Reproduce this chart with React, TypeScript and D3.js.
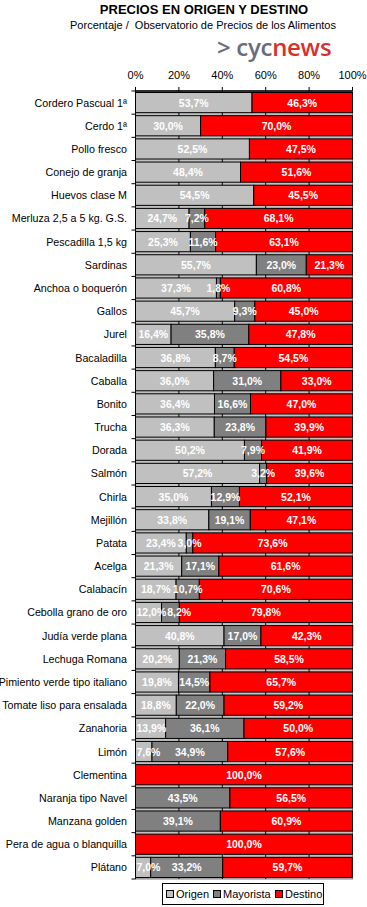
import React from "react";
import * as d3 from "d3";

const categories = [
  "Cordero Pascual 1ª", "Cerdo 1ª", "Pollo fresco", "Conejo de granja", "Huevos clase M",
  "Merluza 2,5 a 5 kg. G.S.", "Pescadilla 1,5 kg", "Sardinas", "Anchoa o boquerón", "Gallos",
  "Jurel", "Bacaladilla", "Caballa", "Bonito", "Trucha", "Dorada", "Salmón", "Chirla",
  "Mejillón", "Patata", "Acelga", "Calabacín", "Cebolla grano de oro", "Judía verde plana",
  "Lechuga Romana", "Pimiento verde tipo italiano", "Tomate liso para ensalada", "Zanahoria",
  "Limón", "Clementina", "Naranja tipo Navel", "Manzana golden", "Pera de agua o blanquilla", "Plátano",
];
const origen = [53.7, 30.0, 52.5, 48.4, 54.5, 24.7, 25.3, 55.7, 37.3, 45.7, 16.4, 36.8, 36.0, 36.4, 36.3, 50.2, 57.2, 35.0, 33.8, 23.4, 21.3, 18.7, 12.0, 40.8, 20.2, 19.8, 18.8, 13.9, 7.6, 0, 0, 0, 0, 7.0];
const mayorista = [0, 0, 0, 0, 0, 7.2, 11.6, 23.0, 1.8, 9.3, 35.8, 8.7, 31.0, 16.6, 23.8, 7.9, 3.2, 12.9, 19.1, 3.0, 17.1, 10.7, 8.2, 17.0, 21.3, 14.5, 22.0, 36.1, 34.9, 0, 43.5, 39.1, 0, 33.2];
const destino = [46.3, 70.0, 47.5, 51.6, 45.5, 68.1, 63.1, 21.3, 60.8, 45.0, 47.8, 54.5, 33.0, 47.0, 39.9, 41.9, 39.6, 52.1, 47.1, 73.6, 61.6, 70.6, 79.8, 42.3, 58.5, 65.7, 59.2, 50.0, 57.6, 100.0, 56.5, 60.9, 100.0, 59.7];
const seriesNames = ["Origen", "Mayorista", "Destino"];
const seriesColors = ["#C0C0C0", "#808080", "#FF0000"];
const xTicks = [0, 20, 40, 60, 80, 100];

const FONT = "'Liberation Sans', Arial, sans-serif";
const LABEL_FS = 10.5;

function labelWidth(s: string) {
  let w = 0;
  for (const ch of s) w += ch === "," ? 0.278 : ch === "%" ? 0.889 : 0.556;
  return w * LABEL_FS;
}

export default function App() {
  const left = 135.5, right = 352.5, top = 91, bottom = 879;
  const x = d3.scaleLinear().domain([0, 100]).range([left, right]);
  const y = d3.scaleBand<string>().domain(categories).range([top, bottom]).paddingInner(0.13).paddingOuter(0.065);
  const series = [origen, mayorista, destino];
  const fmt = (v: number) => d3.format(".1f")(v).replace(".", ",") + "%";

  const rows = categories.map((c, i) => {
    let acc = 0;
    let prevRight = -Infinity;
    const segs = series.map((s, k) => {
      const v0 = acc;
      acc += s[i];
      const label = fmt(s[i]);
      const w = labelWidth(label);
      let cx = x((v0 + acc) / 2);
      if (s[i] > 0) {
        cx = Math.max(cx, left + 1 + w / 2);
        if (cx - w / 2 < prevRight + 1) cx = prevRight + 1 + w / 2;
        prevRight = cx + w / 2;
      }
      return { k, v0, v1: acc, v: s[i], label, cx };
    });
    return { c, segs };
  });

  return (
    <svg width={367} height={907} style={{ position: "absolute", left: 0, top: 0, background: "#fff" }} fontFamily={FONT}>
      <text x={204} y={14} textAnchor="middle" fontWeight="bold" fontSize={13}>PRECIOS EN ORIGEN Y DESTINO</text>
      <text x={203} y={29} textAnchor="middle" fontSize={11} style={{ whiteSpace: "pre" }}>Porcentaje /  Observatorio de Precios de los Alimentos</text>
      <text x={217} y={56} fontSize={24} fontWeight={600} fontFamily="'Open Sans', sans-serif" letterSpacing={-0.3}>
        <tspan fill="#6b6b7a">&gt; cyc</tspan><tspan fill="#d9302c">news</tspan>
      </text>
      {/* plot background */}
      <rect x={left} y={top} width={right - left} height={bottom - top} fill="#C0C0C0" stroke="#808080" />
      {xTicks.slice(1, -1).map((t) => (
        <line key={"g" + t} x1={x(t)} x2={x(t)} y1={top} y2={bottom} stroke="#000" />
      ))}
      {rows.map((r) => (
        <g key={r.c}>
          {r.segs.filter((s) => s.v > 0).map((s) => (
            <rect key={s.k} x={x(s.v0)} y={y(r.c)!} width={x(s.v1) - x(s.v0)} height={y.bandwidth()}
              fill={seriesColors[s.k]} stroke="#000" strokeWidth={1} />
          ))}
        </g>
      ))}
      {rows.map((r) => (
        <g key={"l" + r.c}>
          {r.segs.filter((s) => s.v > 0).map((s) => (
            <text key={s.k} x={s.cx} y={y(r.c)! + y.bandwidth() / 2 + 4} textAnchor="middle"
              fill="#fff" fontWeight="bold" fontSize={LABEL_FS}>{s.label}</text>
          ))}
          <text x={127} y={y(r.c)! + y.bandwidth() / 2 + 4} textAnchor="end" fontSize={10.7} fill="#000">{r.c}</text>
        </g>
      ))}
      {/* axes */}
      <line x1={left} x2={right} y1={top} y2={top} stroke="#000" strokeWidth={1.5} />
      <line x1={left} x2={left} y1={top} y2={bottom} stroke="#000" />
      {xTicks.map((t) => (
        <g key={"t" + t}>
          <line x1={x(t)} x2={x(t)} y1={top} y2={top - 4} stroke="#000" />
          <text x={x(t)} y={79} textAnchor="middle" fontSize={11}>{t}%</text>
        </g>
      ))}
      {categories.map((c) => (
        <line key={"yt" + c} x1={left - 4} x2={left} y1={y(c)! - (y.step() - y.bandwidth()) / 2} y2={y(c)! - (y.step() - y.bandwidth()) / 2} stroke="#000" />
      ))}
      <line x1={left - 4} x2={left} y1={bottom} y2={bottom} stroke="#000" />
      {/* legend */}
      <rect x={162.5} y={883.5} width={161} height={21} fill="#fff" stroke="#000" />
      {seriesNames.map((n, k) => {
        const lx = [166, 213, 275][k];
        return (
          <g key={n}>
            <rect x={lx + 0.5} y={890.5} width={7} height={7} fill={seriesColors[k]} stroke="#000" />
            <text x={lx + 10} y={898} fontSize={11}>{n}</text>
          </g>
        );
      })}
    </svg>
  );
}
